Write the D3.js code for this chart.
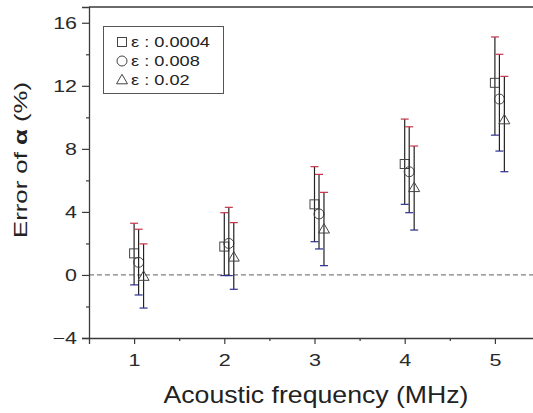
<!DOCTYPE html>
<html><head><meta charset="utf-8">
<script src="https://cdn.jsdelivr.net/npm/d3@7"></script>
<style>body{margin:0;background:#fff;}svg{display:block;font-family:"Liberation Sans",Arial,sans-serif;}</style>
</head><body><svg id="c" width="533" height="413"></svg>
<script>
const frequencies = [1, 2, 3, 4, 5];
const seriesNames = ["ε : 0.0004", "ε : 0.008", "ε : 0.02"];
const seriesSymbols = ["square", "circle", "triangle"];
const seriesOffsets = [0.0, 0.05, 0.105];
const meanS1 = [1.37, 1.80, 4.48, 7.04, 12.19];
const upperS1 = [3.28, 3.95, 6.87, 9.89, 15.10];
const lowerS1 = [-0.63, -0.04, 2.11, 4.48, 8.87];
const meanS2 = [0.80, 2.00, 3.87, 6.55, 11.16];
const upperS2 = [2.90, 4.29, 6.38, 9.40, 14.00];
const lowerS2 = [-1.27, -0.04, 1.65, 3.95, 7.86];
const meanS3 = [-0.10, 1.12, 2.90, 5.53, 9.83];
const upperS3 = [1.97, 3.32, 5.24, 8.18, 12.60];
const lowerS3 = [-2.10, -0.91, 0.59, 2.85, 6.55];
const yMajorTicks = [-4, 0, 4, 8, 12, 16];
const yMinorTicks = [-2, 2, 6, 10, 14];
const xMajorTicks = [1, 2, 3, 4, 5];
const xMinorTicks = [1.5, 2.5, 3.5, 4.5, 5.5];

const svg = d3.select("#c");
const L = 89, R = 540, T = 7, B = 338;
const x = d3.scaleLinear().domain([0.5, 5.5]).range([L, R]);
const y = d3.scaleLinear().domain([-4, 17]).range([B, T]);
const axisColor = "#3a3a3a";
const textColor = "#222";

// frame top line
svg.append("line").attr("x1", L).attr("x2", R).attr("y1", T).attr("y2", T)
  .attr("stroke", axisColor).attr("stroke-width", 1.3);

// zero dashed line
svg.append("line").attr("x1", L).attr("x2", R).attr("y1", y(0)).attr("y2", y(0))
  .attr("stroke", "#808080").attr("stroke-width", 1.3).attr("stroke-dasharray", "5,3");

// axes
const yAxis = d3.axisLeft(y).tickValues(yMajorTicks).tickSize(7).tickFormat(d3.format("d"));
const gy = svg.append("g").attr("transform", `translate(${L},0)`).call(yAxis);
gy.selectAll(".tick text").attr("x", 0).attr("transform", "translate(-12,0) scale(1.3,1)")
  .attr("font-size", 16.5);
const yMinor = d3.axisLeft(y).tickValues(yMinorTicks).tickSize(3).tickFormat("");
svg.append("g").attr("transform", `translate(${L},0)`).call(yMinor).select(".domain").remove();
const xAxis = d3.axisBottom(x).tickValues(xMajorTicks).tickSize(6).tickFormat(d3.format("d"));
const gx = svg.append("g").attr("transform", `translate(0,${B})`).call(xAxis);
gx.selectAll(".tick text").attr("y", 28).attr("dy", 0).attr("transform", "scale(1.35,1)")
  .attr("font-size", 16);
const xMinor = d3.axisBottom(x).tickValues(xMinorTicks).tickSize(3).tickFormat("");
svg.append("g").attr("transform", `translate(0,${B})`).call(xMinor).select(".domain").remove();
svg.selectAll(".domain").attr("stroke", axisColor).attr("stroke-width", 1.3);
svg.selectAll(".tick line").attr("stroke", axisColor).attr("stroke-width", 1.2);
svg.selectAll(".tick text").attr("fill", "#2a2a2a")
  .attr("font-family", "'Liberation Sans', Arial, sans-serif");

// series
const series = [
  {mean: meanS1, up: upperS1, lo: lowerS1},
  {mean: meanS2, up: upperS2, lo: lowerS2},
  {mean: meanS3, up: upperS3, lo: lowerS3}
];
const capW = 4;
const markColor = "#444";
function drawSymbol(g, type, cx, cy) {
  if (type === "square") {
    g.append("rect").attr("x", cx - 4.5).attr("y", cy - 4.5).attr("width", 9).attr("height", 9)
      .attr("fill", "none").attr("stroke", markColor).attr("stroke-width", 1);
  } else if (type === "circle") {
    g.append("circle").attr("cx", cx).attr("cy", cy).attr("r", 5)
      .attr("fill", "none").attr("stroke", markColor).attr("stroke-width", 1);
  } else {
    const h = 9.5, w = 11;
    g.append("path").attr("d", `M${cx},${cy - h * 0.6}L${cx + w / 2},${cy + h * 0.4}L${cx - w / 2},${cy + h * 0.4}Z`)
      .attr("fill", "none").attr("stroke", markColor).attr("stroke-width", 1);
  }
}
series.forEach((s, si) => {
  const g = svg.append("g");
  frequencies.forEach((f, i) => {
    const cx = x(f + seriesOffsets[si]);
    g.append("line").attr("x1", cx).attr("x2", cx).attr("y1", y(s.up[i])).attr("y2", y(s.lo[i]))
      .attr("stroke", "#222").attr("stroke-width", 1.2);
    g.append("line").attr("x1", cx - capW).attr("x2", cx + capW).attr("y1", y(s.up[i])).attr("y2", y(s.up[i]))
      .attr("stroke", "#c8344a").attr("stroke-width", 1.2);
    g.append("line").attr("x1", cx - capW).attr("x2", cx + capW).attr("y1", y(s.lo[i])).attr("y2", y(s.lo[i]))
      .attr("stroke", "#2d2f8e").attr("stroke-width", 1.2);
  });
  frequencies.forEach((f, i) => {
    const cx = x(f + seriesOffsets[si]), cy = y(s.mean[i]);
    drawSymbol(g, seriesSymbols[si], cx, cy);
  });
});

// legend
const lg = svg.append("g");
lg.append("rect").attr("x", 103.5).attr("y", 26.5).attr("width", 120).attr("height", 67)
  .attr("fill", "#fff").attr("stroke", "#555").attr("stroke-width", 1);
seriesNames.forEach((n, i) => {
  const cy = 42 + i * 19;
  drawSymbol(lg, seriesSymbols[i], 122, cy);
  lg.append("text").attr("transform", `translate(131,${cy + 5}) scale(1.3,1)`)
    .attr("font-size", 14).attr("fill", textColor).text(n);
});

// axis titles
svg.append("text").attr("x", 316).attr("y", 403).attr("text-anchor", "middle")
  .attr("font-size", 24).attr("textLength", 305).attr("lengthAdjust", "spacingAndGlyphs")
  .attr("fill", textColor).text("Acoustic frequency (MHz)");
const yt = svg.append("text").attr("transform", "translate(27,160) rotate(-90)")
  .attr("text-anchor", "middle").attr("font-size", 17.5)
  .attr("textLength", 156).attr("lengthAdjust", "spacingAndGlyphs").attr("fill", textColor);
yt.append("tspan").text("Error of ");
yt.append("tspan").attr("font-weight", "bold").text("α");
yt.append("tspan").text(" (%)");
</script></body></html>
